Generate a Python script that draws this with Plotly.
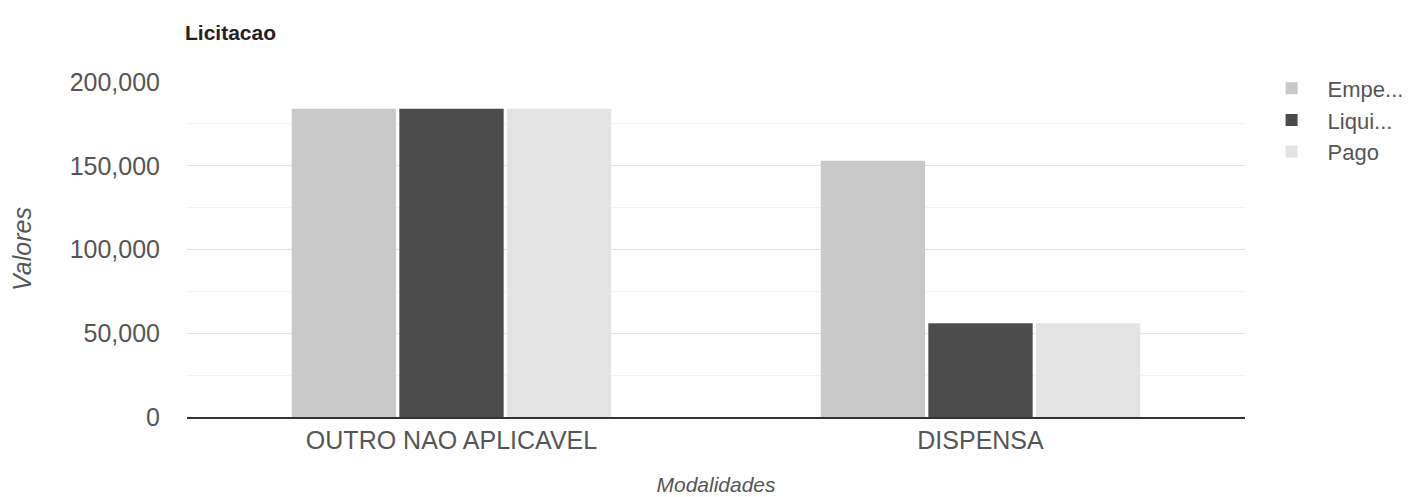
import plotly.graph_objects as go

categories = ["OUTRO NAO APLICAVEL", "DISPENSA"]
empenhado = [184000, 153000]
liquidado = [184000, 56000]
pago = [184000, 56000]
series_names = ["Empe...", "Liqui...", "Pago"]
colors = ["#c9c9c9", "#4c4c4c", "#e4e4e4"]

fig = go.Figure()
for name, vals, col in zip(series_names, [empenhado, liquidado, pago], colors):
    fig.add_trace(go.Bar(x=categories, y=vals, name=name, marker_color=col,
                         marker_line_width=0))

fig.update_layout(
    width=1422, height=497,
    margin=dict(l=177, r=185, t=73, b=88),
    paper_bgcolor="white", plot_bgcolor="white",
    font=dict(family="Liberation Sans, Arial, sans-serif", size=25, color="#555555"),
    title=dict(text="<b>Licitacao</b>", x=177/1422, xanchor="left", y=1-25/497, yanchor="middle",
               font=dict(size=21, color="#222222")),
    barmode="group", bargap=0.39, bargroupgap=0.03,
    legend=dict(x=1.01, xanchor="left", y=1.04, yanchor="top",
                font=dict(size=22, color="#555555"),
                itemwidth=62),
    showlegend=True,
)
fig.update_yaxes(range=[0, 200600], tickvals=[0, 50000, 100000, 150000, 200000],
                 tickformat=",d", gridcolor="#e2e2e2", zeroline=False,
                 showline=False, ticks="", ticklabelstandoff=26,
                 minor=dict(dtick=25000, showgrid=True, gridcolor="#f3f3f3"),
                 title=dict(text="<i>Valores</i>", standoff=32, font=dict(size=25, color="#555555")))
fig.update_xaxes(showline=True, linecolor="#333333", linewidth=2, ticks="",
                 title=dict(text="<i>Modalidades</i>", standoff=24, font=dict(size=21, color="#555555")))

fig.write_html("out.html")
